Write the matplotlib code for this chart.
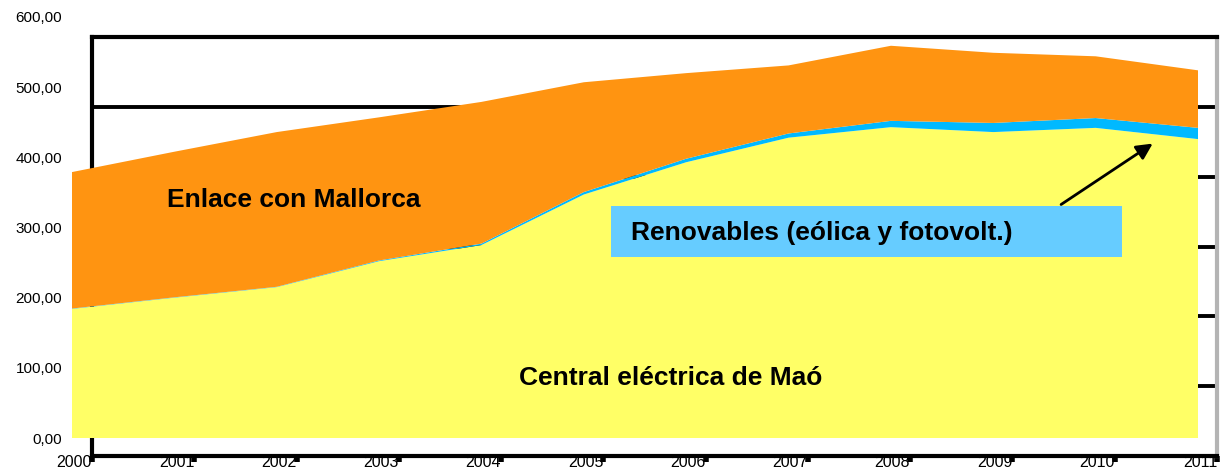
import matplotlib.pyplot as plt
from matplotlib.patches import Rectangle
from matplotlib.ticker import FuncFormatter

plt.rcParams["font.family"] = ["Liberation Sans", "DejaVu Sans"]

years = [2000, 2001, 2002, 2003, 2004, 2005, 2006, 2007, 2008, 2009, 2010, 2011]
central = [184, 200, 215, 252, 275, 347, 393, 428, 443, 436, 442, 426]
renovables = [0.5, 0.5, 0.5, 1, 2, 3.5, 5, 6, 9, 13, 14, 16]
enlace = [194.5, 207.5, 220.5, 204, 202, 156.5, 122, 97, 107, 100, 88, 82]

year_labels = [str(y) for y in years]
colors = ["#FFFF66", "#00B9FF", "#FF9411"]

fig = plt.figure(figsize=(12.23, 4.67), dpi=100)

# offset frame drawn behind the areas
fr = fig.add_axes([92 / 1223, 11 / 467, 1125 / 1223, 419 / 467])
fr.set_xlim(2000, 2011)
fr.set_ylim(0, 600)
fr.set_yticks([100, 200, 300, 400, 500])
fr.tick_params(axis="y", length=0, labelleft=False)
fr.grid(axis="y", color="black", linewidth=2.8)
fr.set_xticks(years)
fr.set_xticklabels(year_labels, fontsize=11.5, ha="right")
fr.tick_params(axis="x", length=4, width=4, pad=-4.5, color="black")
for side in ["left", "top", "bottom"]:
    fr.spines[side].set_linewidth(3)
    fr.spines[side].set_color("black")
fr.spines["right"].set_linewidth(3)
fr.spines["right"].set_color("#B4B4B4")
fr.set_zorder(1)

ax = fig.add_axes([72 / 1223, 29 / 467, 1126 / 1223, 421 / 467])
ax.set_zorder(2)
ax.patch.set_visible(False)
ax.stackplot(years, central, renovables, enlace, colors=colors, linewidth=0)
ax.set_xlim(2000, 2011)
ax.set_ylim(0, 600)
ax.set_yticks([0, 100, 200, 300, 400, 500, 600])
ax.yaxis.set_major_formatter(FuncFormatter(lambda v, p: f"{v:.2f}".replace(".", ",")))
ax.tick_params(axis="y", length=0, pad=7, labelsize=11)
ax.set_xticks([])
for s in ax.spines.values():
    s.set_visible(False)

ax.text(2002.17, 339, "Enlace con Mallorca", fontsize=19, fontweight="bold",
        ha="center", va="center")
ax.text(2005.85, 85.5, "Central eléctrica de Maó", fontsize=19, fontweight="bold",
        ha="center", va="center")
ax.add_patch(Rectangle((2005.27, 258), 4.99, 72.6, facecolor="#66CCFF",
                       edgecolor="none", zorder=3))
ax.text(2005.46, 292, "Renovables (eólica y fotovolt.)", fontsize=19,
        fontweight="bold", ha="left", va="center", zorder=4)
ax.annotate("", xy=(2010.58, 421.8), xytext=(2009.64, 330.6),
            arrowprops=dict(arrowstyle="-|>", color="black", lw=2,
                            mutation_scale=24), zorder=4)

fig.savefig("out.png", dpi=100)
